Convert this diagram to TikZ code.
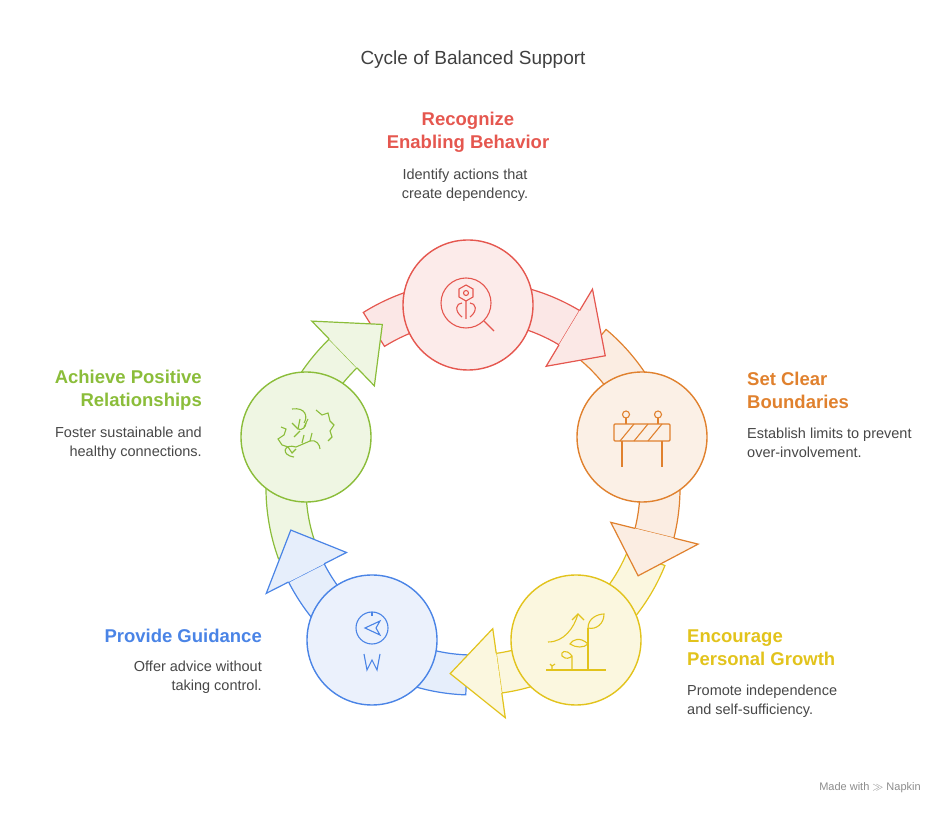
\documentclass[tikz,border=0pt]{standalone}
\usepackage{fontspec}
\setmainfont{Liberation Sans}
\definecolor{cred}{HTML}{E5574F}
\definecolor{corange}{HTML}{E0812E}
\definecolor{cyellow}{HTML}{E2C31C}
\definecolor{cblue}{HTML}{4A84E6}
\definecolor{cgreen}{HTML}{8BBD3A}
% body of a ring arrow: start angle, head base angle, colour
\newcommand\ringbody[3]{%
  \filldraw[#3, fill=#3!14, line width=1.2pt]
    ([shift={(#1:207pt)}]C) arc (#1:#2:207pt) -- ([shift={(#2:167pt)}]C)
    arc (#2:#1:167pt) -- cycle;}
% head of a ring arrow: head base angle, tip angle, colour
\newcommand\ringhead[3]{%
  \fill[#3!14] ([shift={(#1:205pt)}]C) -- ([shift={(#1:232pt)}]C)
    -- ([shift={(#2:187pt)}]C) -- ([shift={(#1:142pt)}]C) -- ([shift={(#1:169pt)}]C) -- cycle;
  \draw[#3, line width=1.2pt, line join=miter] ([shift={(#1:207pt)}]C) -- ([shift={(#1:232pt)}]C)
    -- ([shift={(#2:187pt)}]C) -- ([shift={(#1:142pt)}]C) -- ([shift={(#1:167pt)}]C);}
\begin{document}
\begin{tikzpicture}[x=1pt,y=1pt]
  \tikzstyle{stage}=[circle,line width=1.4pt,minimum size=130pt,inner sep=0pt]
  \tikzstyle{head}=[font=\bfseries\fontsize{18.5}{23}\selectfont,align=center]
  \tikzstyle{desc}=[font=\fontsize{14.5}{19}\selectfont,text=black!72]
  \useasboundingbox (0,0) rectangle (949,816);
  \coordinate (C) at (473,328);
  % ring of arrows
  \ringbody{122}{59}{cred}
  \ringbody{50}{-14}{corange}
  \ringbody{-22}{-82}{cyellow}
  \ringbody{-92}{-153}{cblue}
  \ringbody{200}{134}{cgreen}
  \ringhead{59}{45}{cred}
  \ringhead{-14}{-28}{corange}
  \ringhead{-82}{-97}{cyellow}
  \ringhead{-153}{-167}{cblue}
  \ringhead{134}{119}{cgreen}
  % stages
  \node[stage,draw=cred,fill=cred!12] (S_rec) at (468,511) {};
  \node[stage,draw=corange,fill=corange!12] (S_set) at (642,379) {};
  \node[stage,draw=cyellow,fill=cyellow!14] (S_enc) at (576,176) {};
  \node[stage,draw=cblue,fill=cblue!11] (S_pro) at (372,176) {};
  \node[stage,draw=cgreen,fill=cgreen!14] (S_ach) at (306,379) {};
  % icons
  \begin{scope}[cred,line width=1.1pt,shift={(S_rec.center)}]
    \draw (-2,2) circle (25);
    \draw (16,-16) -- (26,-26);
    \draw (-2,12) circle (2.5);
    \draw (-9,16) -- (-2,20) -- (5,16) -- (5,8) -- (-2,4) -- (-9,8) -- cycle;
    \draw (-2,4) -- (-2,-14) (-6,-12) .. controls (-14,-6) and (-12,2) .. (-6,2);
    \draw (2,-12) .. controls (10,-6) and (8,2) .. (2,2);
  \end{scope}
  \begin{scope}[corange,line width=1.1pt,shift={(S_set.center)}]
    \draw[rounded corners=1pt] (-28,-4) rectangle (28,13);
    \foreach \i in {-22,-8,6} \draw (\i,-4) -- (\i+14,13);
    \draw (-20,-4) -- (-20,-30) (20,-4) -- (20,-30) (-16,13) -- (-16,19) (16,13) -- (16,19);
    \draw (-16,22.5) circle (3.5) (16,22.5) circle (3.5);
  \end{scope}
  \begin{scope}[cyellow,line width=1.1pt,shift={(S_enc.center)}]
    \draw (-30,-30) -- (30,-30) (12,-30) -- (12,12);
    \draw (12,12) .. controls (12,22) and (22,26) .. (28,26) .. controls (28,16) and (20,10) .. (12,12);
    \draw (-4,-30) -- (-4,-16) (-4,-16) .. controls (-10,-8) and (-16,-12) .. (-14,-16) .. controls (-10,-20) and (-6,-18) .. (-4,-16);
    \draw (12,-4) .. controls (4,4) and (-4,0) .. (-6,-4) .. controls (0,-8) and (8,-8) .. (12,-4);
    \draw (-28,-2) .. controls (-12,-2) and (-2,12) .. (2,26);
    \draw (-4,20) -- (2,26) -- (8,20);
    \draw (-24,-30) -- (-24,-26) (-26,-24) -- (-24,-26) -- (-21,-24);
  \end{scope}
  \begin{scope}[cblue,line width=1.1pt,shift={(S_pro.center)}]
    \draw (0,12) circle (16);
    \draw (0,28) -- (0,24);
    \draw (-7,12) -- (8,19) -- (4,12) -- (8,5) -- cycle;
    \draw (-8,-14) -- (-5,-30) -- (0,-20) -- (5,-30) -- (8,-14);
  \end{scope}
  \begin{scope}[cgreen,line width=1.1pt,shift={(S_ach.center)}]
    \draw (-25,10) -- (-20,8) -- (-22,2) -- (-28,-2) -- (-24,-8) -- (-18,-10) -- (-14,-16) -- (-10,-12);
    \draw (-14,28) .. controls (0,30) and (2,20) .. (-2,14) (-14,14) -- (-8,8) .. controls (-4,6) and (0,10) .. (0,14);
    \draw (-8,8) -- (-6,18) (-2,10) -- (2,18);
    \draw (10,27) -- (16,22) -- (22,24) -- (24,16) -- (28,12) -- (24,6) -- (26,0) -- (22,-4);
    \draw (-12,-20) .. controls (-26,-18) and (-22,-6) .. (-10,-10) (-12,0) -- (-6,6) (-10,-10) -- (4,-4) (4,-4) -- (6,4) (-4,-6) -- (-2,2) (4,-4) .. controls (10,-2) and (14,-8) .. (14,-12);
  \end{scope}
  % texts
  \node[font=\fontsize{19}{23}\selectfont,text=black!75] (T_title) at (473,756) {Cycle of Balanced Support};
  \node[head,text=cred] (L_rec) at (468,684) {Recognize\\Enabling Behavior};
  \node[desc,align=center] (D_rec) at (465,631) {Identify actions that\\create dependency.};
  \node[head,text=corange,anchor=west,align=left,inner xsep=0pt] (L_set) at (747,426) {Set Clear\\Boundaries};
  \node[desc,align=left,anchor=west,inner xsep=0pt] (D_set) at (747,373) {Establish limits to prevent\\over-involvement.};
  \node[head,text=cyellow,anchor=west,align=left,inner xsep=0pt] (L_enc) at (687,168) {Encourage\\Personal Growth};
  \node[desc,align=left,anchor=west,inner xsep=0pt] (D_enc) at (687,115) {Promote independence\\and self-sufficiency.};
  \node[head,text=cblue,anchor=east,align=right,inner xsep=0pt] (L_pro) at (262,180) {Provide Guidance};
  \node[desc,align=right,anchor=east,inner xsep=0pt] (D_pro) at (262,139) {Offer advice without\\taking control.};
  \node[head,text=cgreen,anchor=east,align=right,inner xsep=0pt] (L_ach) at (202,426) {Achieve Positive\\Relationships};
  \node[desc,align=right,anchor=east,inner xsep=0pt] (D_ach) at (202,373) {Foster sustainable and\\healthy connections.};
  \node[font=\fontsize{11}{13}\selectfont,text=black!45] (T_made) at (870,28) {Made with $\gg$ Napkin};
\end{tikzpicture}
\end{document}
